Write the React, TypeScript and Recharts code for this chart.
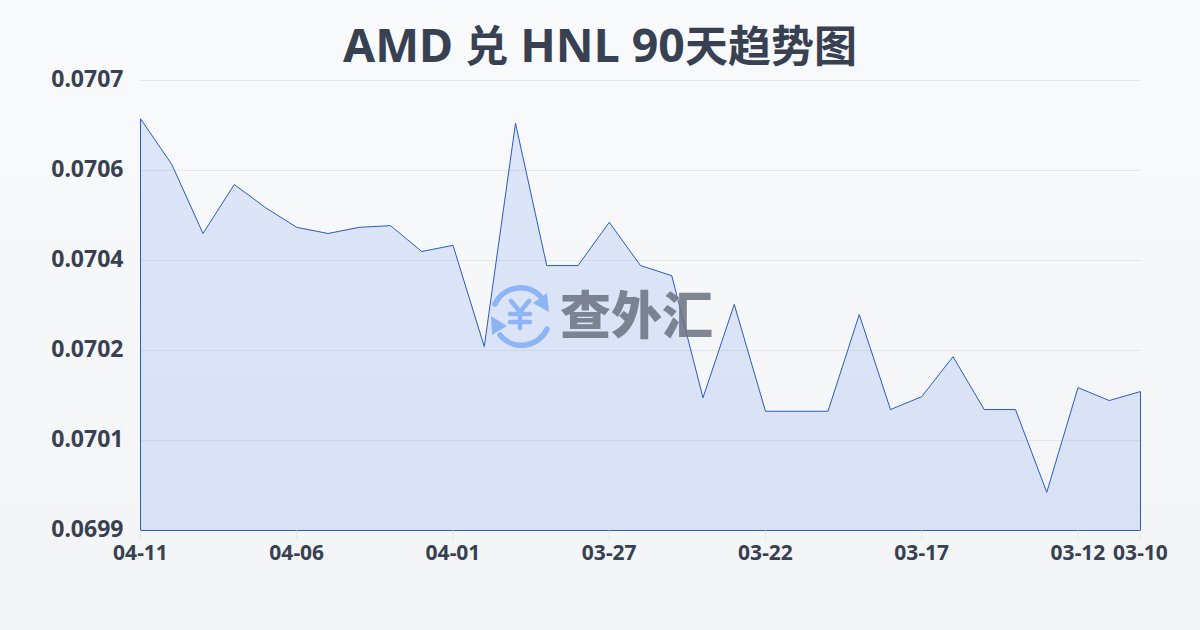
import React from "react";
import { AreaChart, Area, XAxis, YAxis, CartesianGrid, ReferenceLine } from "recharts";

const dates = ["04-11","04-10","04-09","04-08","04-07","04-06","04-05","04-04","04-03","04-02","04-01","03-31","03-30","03-29","03-28","03-27","03-26","03-25","03-24","03-23","03-22","03-21","03-20","03-19","03-18","03-17","03-16","03-15","03-14","03-13","03-12","03-11","03-10"];
const rates = [0.070652,0.070571,0.070448,0.070535,0.070494,0.070459,0.070448,0.070459,0.070462,0.070416,0.070427,0.070247,0.070644,0.070391,0.070391,0.070468,0.070391,0.070373,0.070156,0.070322,0.070132,0.070132,0.070132,0.070304,0.070135,0.070158,0.070229,0.070135,0.070135,0.069988,0.070174,0.070151,0.070167];
const xTicks = ["04-11","04-06","04-01","03-27","03-22","03-17","03-12","03-10"];
const yTicks = [0.06992,0.07008,0.07024,0.0704,0.07056,0.07072];
const titleParts = [
  { text: "AMD ", cjk: false },
  { text: "兑", cjk: true },
  { text: " HNL 90", cjk: false },
  { text: "天趋势图", cjk: true },
];
const brand = "查外汇";

const rows = dates.map((date, i) => ({ date, rate: rates[i] }));
const FONT = '"Noto Sans", "Noto Sans CJK SC", sans-serif';
const BLUE = "#2a5cc4";
const INK = "#374151";
const firstDate = dates[0];
const lastDate = dates[dates.length - 1];

export default function App() {
  return (
    <div style={{ position: "fixed", left: 0, top: 0, width: 1200, height: 630, overflow: "hidden", background: "linear-gradient(180deg,#f9fafc 0%,#f3f4f6 100%)", fontFamily: FONT }}>
      <div style={{ position: "absolute", left: 0, top: 11, width: 1200, textAlign: "center", fontWeight: 700, lineHeight: "64px", color: INK, whiteSpace: "pre" }}>
        {titleParts.map((p) => (
          <span key={p.text} style={{ fontSize: p.cjk ? 43 : 46.5, fontFamily: p.cjk ? '"Noto Sans CJK SC", sans-serif' : '"Noto Sans", sans-serif' }}>{p.text}</span>
        ))}
      </div>
      <AreaChart width={1200} height={630} data={rows} margin={{ top: 80.5, right: 59.5, bottom: 0, left: 0 }} style={{ position: "absolute", left: 0, top: 0 }}>
        <CartesianGrid vertical={false} stroke="#e5e7eb" strokeWidth={1} />
        <XAxis dataKey="date" ticks={xTicks} interval={0} height={99.5} padding={{ left: 0, right: 0 }}
          axisLine={{ stroke: BLUE, strokeWidth: 1 }} tickLine={{ stroke: "#e5e7eb", strokeWidth: 1 }} tickSize={10} tickMargin={5}
          tick={{ fill: INK, fontSize: 21, fontWeight: 700, fontFamily: FONT }} />
        <YAxis width={140.5} domain={[yTicks[0], yTicks[yTicks.length - 1]]} ticks={yTicks} interval={0} axisLine={false} tickLine={false} tickMargin={11}
          tickFormatter={(v: number) => v.toFixed(4)} tick={{ fill: INK, fontSize: 23, fontWeight: 700, fontFamily: FONT, dy: -2 }} />
        <Area type="linear" dataKey="rate" stroke={BLUE} strokeWidth={1} fill="#2563eb" fillOpacity={0.13} isAnimationActive={false} dot={false} activeDot={false} baseValue={yTicks[0]} />
        <ReferenceLine stroke={BLUE} strokeWidth={1} segment={[{ x: firstDate, y: yTicks[0] }, { x: firstDate, y: rates[0] }]} />
        <ReferenceLine stroke={BLUE} strokeWidth={1} segment={[{ x: lastDate, y: yTicks[0] }, { x: lastDate, y: rates[rates.length - 1] }]} />
      </AreaChart>
      <svg width={1200} height={630} style={{ position: "absolute", left: 0, top: 0, pointerEvents: "none" }}>
        <g fill="none" stroke="#8db4f5" strokeWidth={5.5} strokeLinecap="round">
          <path d="M495 304 A28 28 0 0 1 540 296" />
          <path d="M547 329 A28 28 0 0 1 500 335" />
          <path d="M511 301 L520 312 L529 301 M520 312 V328 M510 314 H530 M510 322 H530" strokeWidth={4.5} />
        </g>
        <path d="M549 312 L547 293 L533 303 Z" fill="#8db4f5" />
        <path d="M491 316 L492 335 L507 326 Z" fill="#8db4f5" />
        <text x={560} y={334} fontSize={51} fontWeight={900} fill="#6b7280" fillOpacity={0.86} fontFamily='"Noto Sans CJK SC", sans-serif'>{brand}</text>
      </svg>
    </div>
  );
}
